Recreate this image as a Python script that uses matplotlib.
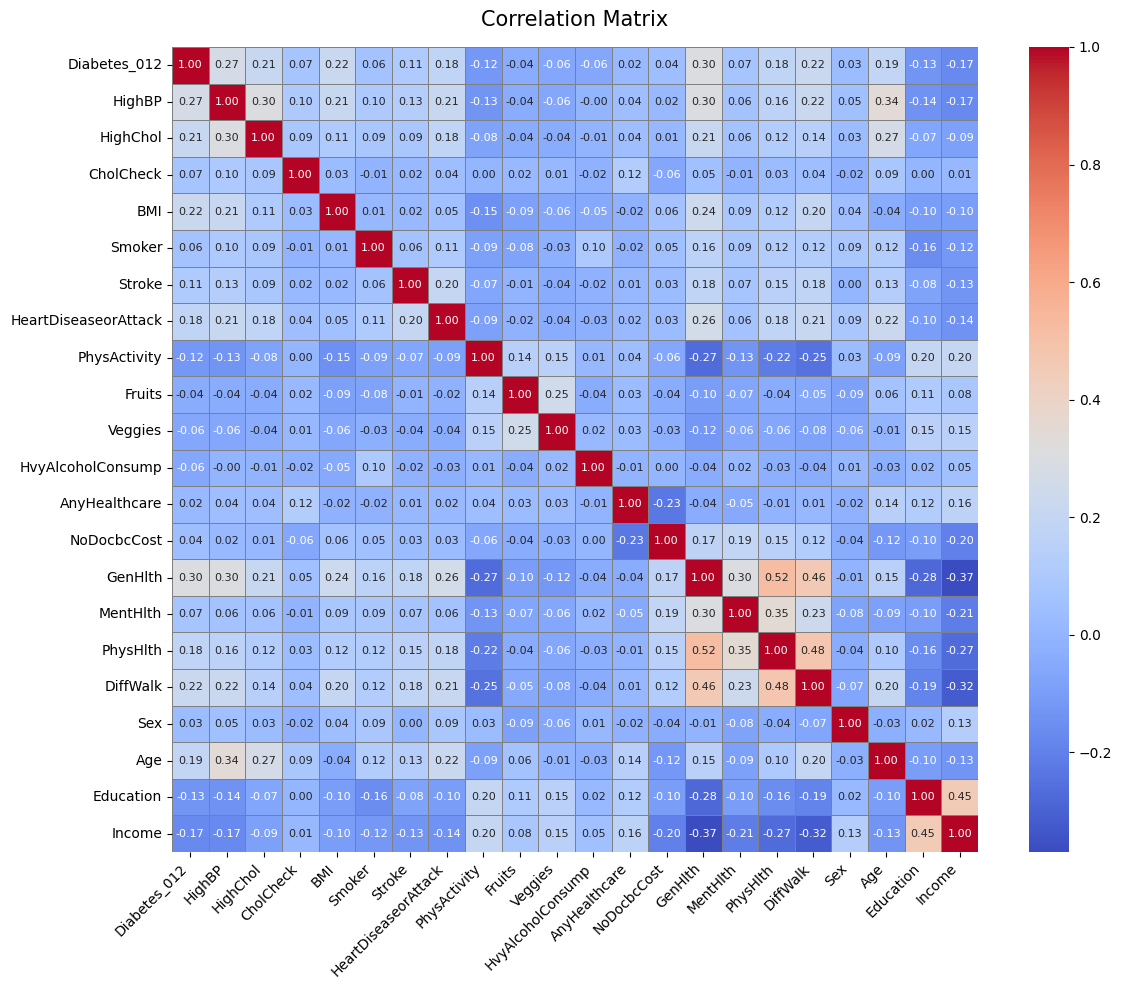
import numpy as np
import pandas as pd
import seaborn as sns
from matplotlib import pyplot as plt

cols = ["Diabetes_012", "HighBP", "HighChol", "CholCheck", "BMI", "Smoker", "Stroke",
        "HeartDiseaseorAttack", "PhysActivity", "Fruits", "Veggies", "HvyAlcoholConsump",
        "AnyHealthcare", "NoDocbcCost", "GenHlth", "MentHlth", "PhysHlth", "DiffWalk",
        "Sex", "Age", "Education", "Income"]

diabetes = [1.00, .27, .21, .07, .22, .06, .11, .18, -.12, -.04, -.06, -.06, .02, .04, .30, .07, .18, .22, .03, .19, -.13, -.17]
highbp = [.27, 1.00, .30, .10, .21, .10, .13, .21, -.13, -.04, -.06, -.004, .04, .02, .30, .06, .16, .22, .05, .34, -.14, -.17]
highchol = [.21, .30, 1.00, .09, .11, .09, .09, .18, -.08, -.04, -.04, -.01, .04, .01, .21, .06, .12, .14, .03, .27, -.07, -.09]
cholcheck = [.07, .10, .09, 1.00, .03, -.01, .02, .04, .00, .02, .01, -.02, .12, -.06, .05, -.01, .03, .04, -.02, .09, .00, .01]
bmi = [.22, .21, .11, .03, 1.00, .01, .02, .05, -.15, -.09, -.06, -.05, -.02, .06, .24, .09, .12, .20, .04, -.04, -.10, -.10]
smoker = [.06, .10, .09, -.01, .01, 1.00, .06, .11, -.09, -.08, -.03, .10, -.02, .05, .16, .09, .12, .12, .09, .12, -.16, -.12]
stroke = [.11, .13, .09, .02, .02, .06, 1.00, .20, -.07, -.01, -.04, -.02, .01, .03, .18, .07, .15, .18, .00, .13, -.08, -.13]
heart = [.18, .21, .18, .04, .05, .11, .20, 1.00, -.09, -.02, -.04, -.03, .02, .03, .26, .06, .18, .21, .09, .22, -.10, -.14]
physact = [-.12, -.13, -.08, .00, -.15, -.09, -.07, -.09, 1.00, .14, .15, .01, .04, -.06, -.27, -.13, -.22, -.25, .03, -.09, .20, .20]
fruits = [-.04, -.04, -.04, .02, -.09, -.08, -.01, -.02, .14, 1.00, .25, -.04, .03, -.04, -.10, -.07, -.04, -.05, -.09, .06, .11, .08]
veggies = [-.06, -.06, -.04, .01, -.06, -.03, -.04, -.04, .15, .25, 1.00, .02, .03, -.03, -.12, -.06, -.06, -.08, -.06, -.01, .15, .15]
alcohol = [-.06, -.004, -.01, -.02, -.05, .10, -.02, -.03, .01, -.04, .02, 1.00, -.01, .00, -.04, .02, -.03, -.04, .01, -.03, .02, .05]
healthcare = [.02, .04, .04, .12, -.02, -.02, .01, .02, .04, .03, .03, -.01, 1.00, -.23, -.04, -.05, -.01, .01, -.02, .14, .12, .16]
nodoc = [.04, .02, .01, -.06, .06, .05, .03, .03, -.06, -.04, -.03, .00, -.23, 1.00, .17, .19, .15, .12, -.04, -.12, -.10, -.20]
genhlth = [.30, .30, .21, .05, .24, .16, .18, .26, -.27, -.10, -.12, -.04, -.04, .17, 1.00, .30, .52, .46, -.01, .15, -.28, -.37]
menthlth = [.07, .06, .06, -.01, .09, .09, .07, .06, -.13, -.07, -.06, .02, -.05, .19, .30, 1.00, .35, .23, -.08, -.09, -.10, -.21]
physhlth = [.18, .16, .12, .03, .12, .12, .15, .18, -.22, -.04, -.06, -.03, -.01, .15, .52, .35, 1.00, .48, -.04, .10, -.16, -.27]
diffwalk = [.22, .22, .14, .04, .20, .12, .18, .21, -.25, -.05, -.08, -.04, .01, .12, .46, .23, .48, 1.00, -.07, .20, -.19, -.32]
sex = [.03, .05, .03, -.02, .04, .09, .00, .09, .03, -.09, -.06, .01, -.02, -.04, -.01, -.08, -.04, -.07, 1.00, -.03, .02, .13]
age = [.19, .34, .27, .09, -.04, .12, .13, .22, -.09, .06, -.01, -.03, .14, -.12, .15, -.09, .10, .20, -.03, 1.00, -.10, -.13]
education = [-.13, -.14, -.07, .00, -.10, -.16, -.08, -.10, .20, .11, .15, .02, .12, -.10, -.28, -.10, -.16, -.19, .02, -.10, 1.00, .45]
income = [-.17, -.17, -.09, .01, -.10, -.12, -.13, -.14, .20, .08, .15, .05, .16, -.20, -.37, -.21, -.27, -.32, .13, -.13, .45, 1.00]

rows = [diabetes, highbp, highchol, cholcheck, bmi, smoker, stroke, heart, physact, fruits,
        veggies, alcohol, healthcare, nodoc, genhlth, menthlth, physhlth, diffwalk, sex, age,
        education, income]
corr = pd.DataFrame(np.array(rows), index=cols, columns=cols)

fig = plt.figure(figsize=(11.22, 9.9), dpi=100)
ax = fig.add_axes([172 / 1122, 1 - 852 / 990, 806 / 1122, 805 / 990])
cax = fig.add_axes([1029 / 1122, 1 - 852 / 990, 40 / 1122, 805 / 990])

sns.heatmap(corr, annot=True, fmt=".2f", cmap="coolwarm", ax=ax, cbar_ax=cax,
            linewidths=0.5, linecolor="gray", annot_kws={"size": 8})
ax.set_title("Correlation Matrix", fontsize=15, pad=15)
ax.set_xticklabels(ax.get_xticklabels(), rotation=45, ha="right")
ax.set_yticklabels(ax.get_yticklabels(), rotation=0)

plt.savefig("out.png")
